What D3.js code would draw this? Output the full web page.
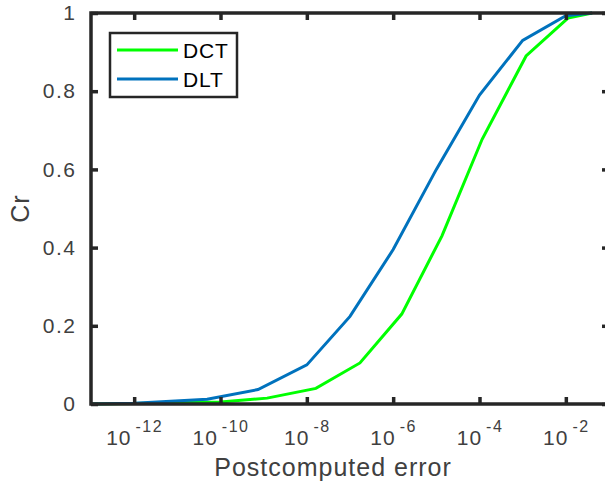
<!DOCTYPE html>
<html><head><meta charset="utf-8">
<script src="https://cdn.jsdelivr.net/npm/d3@7"></script>
<style>body{margin:0;background:#fff;overflow:hidden} text{font-family:"Liberation Sans",Arial,Helvetica,sans-serif}</style>
</head><body><svg id="c" width="605" height="486"></svg>
<script>
// ---- data ----
const seriesNames = ["DCT", "DLT"];
const seriesColors = ["#00FF00", "#0072BD"];
const dctX = [1e-13, 1e-12, 1e-10, 1.2e-9, 1.62e-8, 1.7e-7, 1.58e-6, 1.35e-5, 1.15e-4, 1.2e-3, 1.12e-2, 4.07e-2];
const dctY = [0, 0.001, 0.005, 0.015, 0.04, 0.105, 0.23, 0.43, 0.677, 0.89, 0.987, 1];
const dltX = [1e-13, 1e-12, 4.9e-11, 7.4e-10, 1e-8, 1e-7, 1e-6, 1e-5, 1e-4, 1e-3, 1e-2, 4.07e-2];
const dltY = [0, 0.002, 0.012, 0.037, 0.1, 0.224, 0.395, 0.6, 0.79, 0.93, 0.993, 1];
const xTickExps = [-12, -10, -8, -6, -4, -2];
const yTicks = [0, 0.2, 0.4, 0.6, 0.8, 1];
const xLabel = "Postcomputed error";
const yLabel = "Cr";

// ---- layout ----
const L = 91, R = 609, T = 13, B = 404;
const axisColor = "#262626", textColor = "#404040";
const svg = d3.select("#c");
const x = d3.scaleLog().domain([1e-13, 1e-1]).range([L, R]);
const y = d3.scaleLinear().domain([0, 1]).range([B, T]);

const xTicks = xTickExps.map(e => Math.pow(10, e));

// lines
const line = d3.line().x(d => x(d[0])).y(d => y(d[1]));
const series = [d3.zip(dctX, dctY), d3.zip(dltX, dltY)];
series.forEach((s, i) => {
  svg.append("path").datum(s).attr("d", line)
    .attr("fill", "none").attr("stroke", seriesColors[i])
    .attr("stroke-width", 3).attr("stroke-linejoin", "miter");
});

// axes
function styleAxis(g) {
  g.select(".domain").remove();
  g.selectAll(".tick line").attr("stroke", axisColor).attr("stroke-width", 3.5);
  g.selectAll("text").attr("fill", textColor);
}
const gx = svg.append("g").attr("transform", `translate(0,${B})`)
  .call(d3.axisBottom(x).tickValues(xTicks).tickSize(-7).tickFormat(""));
styleAxis(gx);
gx.selectAll(".tick").each(function(d, i) {
  const t = d3.select(this).append("text").attr("y", 41).attr("text-anchor", "middle")
    .attr("fill", textColor).attr("font-size", 21).attr("letter-spacing", 1);
  t.append("tspan").text("10");
  t.append("tspan").attr("dx", 4).attr("dy", -13).attr("font-size", 16)
    .attr("letter-spacing", 1.5).text(xTickExps[i]);
});
const gxt = svg.append("g").attr("transform", `translate(0,${T})`)
  .call(d3.axisTop(x).tickValues(xTicks).tickSize(-7).tickFormat(""));
styleAxis(gxt);
const gy = svg.append("g").attr("transform", `translate(${L},0)`)
  .call(d3.axisLeft(y).tickValues(yTicks).tickSize(-7).tickPadding(14.5).tickFormat(d3.format("~g")));
styleAxis(gy);
gy.selectAll("text").attr("font-size", 21).attr("letter-spacing", 1.5)
  .attr("font-family", "'Liberation Sans',Arial,sans-serif");
const gyr = svg.append("g").attr("transform", `translate(${R},0)`)
  .call(d3.axisRight(y).tickValues(yTicks).tickSize(-7).tickFormat(""));
styleAxis(gyr);

// box
svg.append("rect").attr("x", L).attr("y", T).attr("width", R - L).attr("height", B - T)
  .attr("fill", "none").attr("stroke", axisColor).attr("stroke-width", 3.5);

// labels
svg.append("text").attr("x", 333).attr("y", 476).attr("text-anchor", "middle")
  .attr("font-size", 25).attr("letter-spacing", 1).attr("fill", textColor).text(xLabel);
svg.append("text").attr("transform", `translate(29,${(T + B) / 2}) rotate(-90)`)
  .attr("text-anchor", "middle").attr("font-size", 25).attr("letter-spacing", 1)
  .attr("fill", textColor).text(yLabel);

// legend
const lg = svg.append("g");
lg.append("rect").attr("x", 110).attr("y", 33).attr("width", 127).attr("height", 64)
  .attr("fill", "#fff").attr("stroke", axisColor).attr("stroke-width", 2.5);
seriesNames.forEach((n, i) => {
  const yy = 50 + i * 29;
  lg.append("line").attr("x1", 117).attr("x2", 178).attr("y1", yy).attr("y2", yy)
    .attr("stroke", seriesColors[i]).attr("stroke-width", 3);
  lg.append("text").attr("x", 183).attr("y", yy + 8).attr("font-size", 21)
    .attr("letter-spacing", 0.8).attr("fill", "#000").text(n);
});
</script></body></html>
